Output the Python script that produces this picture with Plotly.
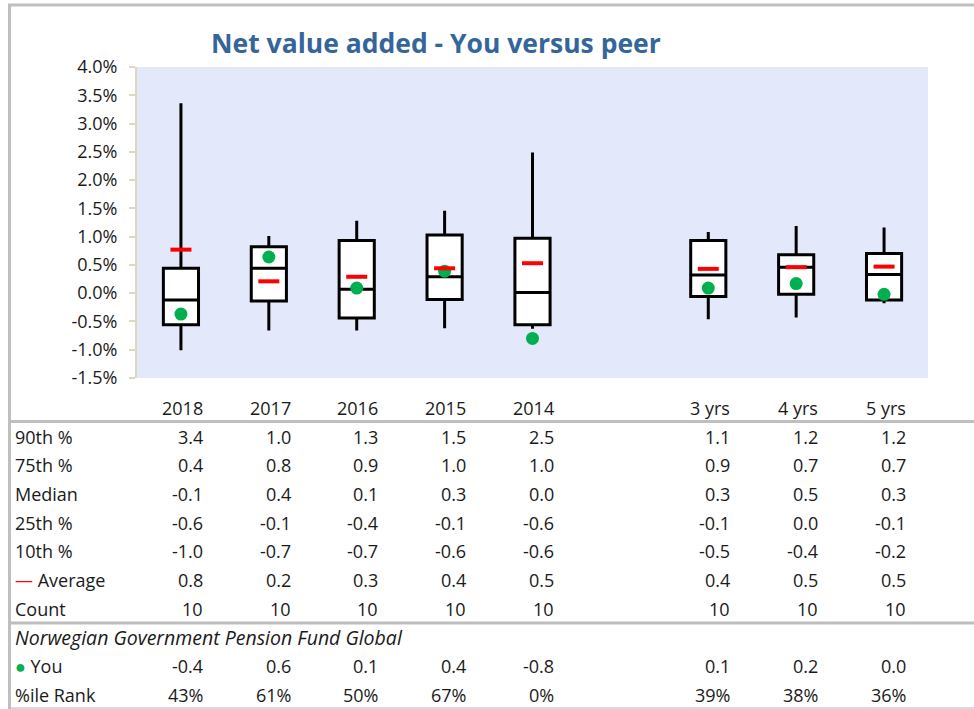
import plotly.graph_objects as go

# Категории и данные (в процентах)
categories = ["2018", "2017", "2016", "2015", "2014", "3 yrs", "4 yrs", "5 yrs"]
p90 = [3.36, 1.01, 1.28, 1.46, 2.49, 1.08, 1.19, 1.16]
p75 = [0.44, 0.82, 0.93, 1.03, 0.97, 0.93, 0.68, 0.70]
median = [-0.12, 0.44, 0.07, 0.29, 0.01, 0.32, 0.46, 0.33]
p25 = [-0.56, -0.14, -0.44, -0.11, -0.56, -0.06, -0.02, -0.12]
p10 = [-1.01, -0.66, -0.66, -0.62, -0.63, -0.46, -0.43, -0.18]
average = [0.77, 0.21, 0.29, 0.44, 0.53, 0.43, 0.46, 0.47]
count = [10, 10, 10, 10, 10, 10, 10, 10]
you = [-0.37, 0.64, 0.09, 0.39, -0.80, 0.09, 0.17, -0.02]
pct_rank = ["43%", "61%", "50%", "67%", "0%", "39%", "38%", "36%"]
y_ticks = [-1.5, -1.0, -0.5, 0.0, 0.5, 1.0, 1.5, 2.0, 2.5, 3.0, 3.5, 4.0]

# Положение колонок: пропуск между годами и многолетними периодами
xpos = [i if i < 5 else i + 1 for i in range(len(categories))]

FONT = "Open Sans"
TXT = "#1a1a1a"
GRAY = "#BFBFBF"

# Область графика в пикселях
PL, PR, PT, PB = 137, 928, 67, 378


def px_x(x):
    return (x - PL) / (PR - PL)


def px_y(y):
    return (PB - y) / (PB - PT)


def fmt(v):
    s = f"{v:.1f}"
    return "0.0" if s == "-0.0" else s


fig = go.Figure()

fig.add_trace(go.Box(
    x=xpos, q1=p25, median=median, q3=p75, lowerfence=p10, upperfence=p90,
    width=0.4, whiskerwidth=0, boxpoints=False,
    line=dict(color="black", width=3), fillcolor="white",
    showlegend=False, hoverinfo="skip"
))

fig.add_trace(go.Scatter(
    x=xpos, y=you, mode="markers",
    marker=dict(symbol="circle", size=13, color="#00B050"),
    showlegend=False, hoverinfo="skip"
))

fig.add_trace(go.Scatter(
    x=xpos, y=average, mode="markers",
    marker=dict(symbol="line-ew", size=15, line=dict(color="#FF0000", width=4)),
    showlegend=False, hoverinfo="skip"
))

# Таблица под графиком
row_labels = ["90th %", "75th %", "Median", "25th %", "10th %",
              "<span style='color:#FF0000'>—</span> Average", "Count",
              "<i><span style='font-size:19.5px'>Norwegian Government Pension Fund Global</span></i>",
              "<span style='color:#00B050'>●</span> You", "%ile Rank"]
row_values = [
    [fmt(v) for v in p90],
    [fmt(v) for v in p75],
    [fmt(v) for v in median],
    [fmt(v) for v in p25],
    [fmt(v) for v in p10],
    [fmt(v) for v in average],
    [str(v) for v in count],
    None,
    [fmt(v) for v in you],
    pct_rank,
]

ROW0 = 408
STEP = 28.65
annotations = []

for c, x in zip(categories, xpos):
    annotations.append(dict(x=x + 0.27, y=px_y(ROW0), xref="x", yref="paper",
                            text=c, showarrow=False, xanchor="right", yanchor="middle",
                            font=dict(family=FONT, size=18, color=TXT)))

for i, (label, vals) in enumerate(zip(row_labels, row_values)):
    yy = px_y(ROW0 + STEP * (i + 1))
    annotations.append(dict(x=px_x(13), y=yy, xref="paper", yref="paper",
                            text=label, showarrow=False, xanchor="left", yanchor="middle",
                            font=dict(family=FONT, size=18, color=TXT)))
    if vals is None:
        continue
    for v, x in zip(vals, xpos):
        annotations.append(dict(x=x + 0.27, y=yy, xref="x", yref="paper",
                                text=v, showarrow=False, xanchor="right", yanchor="middle",
                                font=dict(family=FONT, size=18, color=TXT)))

annotations.append(dict(x=px_x(436), y=px_y(43), xref="paper", yref="paper",
                        text="<b>Net value added - You versus peer</b>", showarrow=False,
                        xanchor="center", yanchor="middle",
                        font=dict(family=FONT, size=26.5, color="#34659B")))

# Рамка и линии таблицы
shapes = [
    dict(type="line", xref="paper", yref="paper", x0=px_x(8), x1=px_x(974),
         y0=px_y(5), y1=px_y(5), line=dict(color=GRAY, width=3)),
    dict(type="line", xref="paper", yref="paper", x0=px_x(9.5), x1=px_x(9.5),
         y0=px_y(4), y1=px_y(709), line=dict(color=GRAY, width=3)),
    dict(type="line", xref="paper", yref="paper", x0=px_x(11), x1=px_x(974),
         y0=px_y(421.5), y1=px_y(421.5), line=dict(color=GRAY, width=3)),
    dict(type="line", xref="paper", yref="paper", x0=px_x(11), x1=px_x(974),
         y0=px_y(623), y1=px_y(623), line=dict(color=GRAY, width=3)),
    dict(type="line", xref="paper", yref="paper", x0=px_x(11), x1=px_x(974),
         y0=px_y(708), y1=px_y(708), line=dict(color="#D9D9D9", width=2)),
]

fig.update_layout(
    width=974, height=709,
    margin=dict(l=PL, r=974 - PR, t=PT, b=709 - PB),
    paper_bgcolor="white", plot_bgcolor="#E3E8FB",
    font=dict(family=FONT, size=18, color=TXT),
    annotations=annotations, shapes=shapes,
    xaxis=dict(range=[-0.5, 8.5], showticklabels=False, showgrid=False,
               zeroline=False, showline=False, ticks=""),
    yaxis=dict(range=[-1.5, 4.0], tickvals=y_ticks,
               ticktext=[f"{v:.1f}%" for v in y_ticks],
               showgrid=False, zeroline=False, showline=True,
               linecolor="#DDD8C4", linewidth=2, ticks="outside", ticklen=6,
               tickcolor="#DDD8C4", tickwidth=2, ticklabelstandoff=8,
               tickfont=dict(family=FONT, size=18, color=TXT)),
)

# Убираем стандартный отступ body, чтобы рисунок занимал всё окно
fig.write_html("out.html", config={"displayModeBar": False},
               post_script="document.body.style.margin='0';document.body.style.overflow='hidden';")
